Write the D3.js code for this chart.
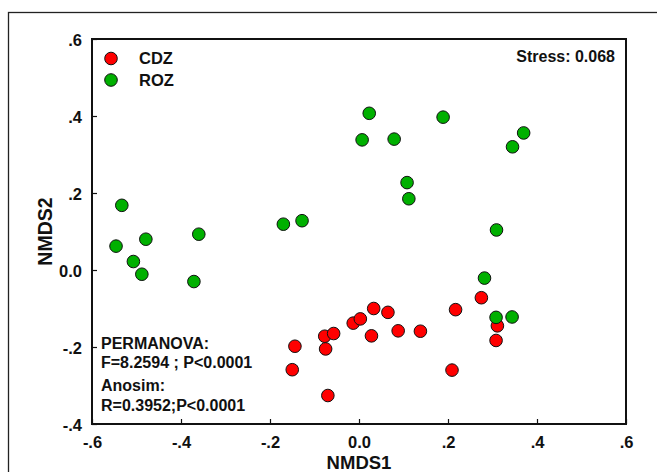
<!DOCTYPE html>
<html>
<head>
<meta charset="utf-8">
<script src="https://cdn.jsdelivr.net/npm/d3@7"></script>
<style>
  body { margin: 0; background: #fff; }
  text { font-family: "Liberation Sans", Arial, sans-serif; font-weight: bold; fill: #111; }
</style>
</head>
<body>
<div id="chart"></div>
<script>
(function(){
    // NMDS scores
    const groups = ["CDZ", "ROZ"];
    const cdzX = [-0.150, -0.144, -0.077, -0.057, -0.075, -0.070, -0.013, 0.003, 0.033, 0.028, 0.065, 0.088, 0.138, 0.217, 0.209, 0.275, 0.311, 0.308];
    const cdzY = [-0.259, -0.198, -0.172, -0.165, -0.205, -0.326, -0.138, -0.127, -0.100, -0.171, -0.110, -0.158, -0.159, -0.103, -0.260, -0.072, -0.145, -0.183];
    const rozX = [0.023, 0.007, 0.079, 0.189, 0.370, 0.345, 0.108, 0.112, 0.309, 0.282, 0.308, 0.344, -0.533, -0.546, -0.507, -0.479, -0.488, -0.360, -0.371, -0.170, -0.128];
    const rozY = [0.407, 0.338, 0.340, 0.397, 0.356, 0.320, 0.227, 0.185, 0.104, -0.021, -0.123, -0.122, 0.168, 0.062, 0.022, 0.080, -0.011, 0.093, -0.030, 0.119, 0.128];
    const xTicks = [-0.6, -0.4, -0.2, 0.0, 0.2, 0.4, 0.6];
    const yTicks = [-0.4, -0.2, 0.0, 0.2, 0.4, 0.6];
    const stats = ["PERMANOVA:", "F=8.2594 ; P<0.0001", "Anosim:", "R=0.3952;P<0.0001"];
    const stressLabel = "Stress: 0.068";

    const width = 657, height = 472;
    const margin = { left: 92, right: 31, top: 39, bottom: 48 };
    const colors = { CDZ: "#ff0000", ROZ: "#00b000" };

    const svg = d3.select("#chart").append("svg")
        .attr("width", width)
        .attr("height", height);

    // outer frame of the figure
    svg.append("rect")
        .attr("x", 8.5).attr("y", 12.5)
        .attr("width", width).attr("height", height)
        .attr("fill", "none").attr("stroke", "#222").attr("stroke-width", 1.3);

    const x = d3.scaleLinear().domain([-0.6, 0.6]).range([margin.left, width - margin.right]);
    const y = d3.scaleLinear().domain([-0.4, 0.6]).range([height - margin.bottom, margin.top]);

    const fmt = v => Math.abs(v) < 1e-9 ? "0.0" : d3.format(".1f")(v).replace("0.", ".").replace("−", "-");

    const xAxis = svg.append("g")
        .attr("transform", `translate(0,${y(-0.4)})`)
        .call(d3.axisBottom(x).tickValues(xTicks).tickFormat(fmt).tickSize(-5).tickPadding(12));
    const yAxis = svg.append("g")
        .attr("transform", `translate(${x(-0.6)},0)`)
        .call(d3.axisLeft(y).tickValues(yTicks).tickFormat(fmt).tickSize(-5).tickPadding(10));

    [xAxis, yAxis].forEach(g => {
        g.select(".domain").remove();
        g.selectAll(".tick line").attr("stroke", "#111").attr("stroke-width", 1.2);
        g.selectAll(".tick text")
            .attr("font-family", "Liberation Sans, Arial, sans-serif")
            .attr("font-weight", "bold")
            .attr("font-size", 16.5)
            .attr("fill", "#111");
    });
    yAxis.selectAll(".tick text").attr("dy", "0.38em");

    // plot frame
    svg.append("rect")
        .attr("x", x(-0.6)).attr("y", y(0.6))
        .attr("width", x(0.6) - x(-0.6)).attr("height", y(-0.4) - y(0.6))
        .attr("fill", "none").attr("stroke", "#111").attr("stroke-width", 2);

    // points
    const series = [
        { name: "CDZ", xs: cdzX, ys: cdzY },
        { name: "ROZ", xs: rozX, ys: rozY }
    ];
    series.forEach(s => {
        svg.append("g").selectAll("circle")
            .data(s.xs.map((v, i) => [v, s.ys[i]]))
            .enter().append("circle")
            .attr("cx", d => x(d[0]))
            .attr("cy", d => y(d[1]))
            .attr("r", 6.3)
            .attr("fill", colors[s.name])
            .attr("stroke", "#111")
            .attr("stroke-width", 1);
    });

    // legend
    const legend = svg.append("g");
    groups.forEach((g, i) => {
        legend.append("circle")
            .attr("cx", 111).attr("cy", 58.5 + i * 21.5)
            .attr("r", 6.3)
            .attr("fill", colors[g]).attr("stroke", "#111").attr("stroke-width", 1);
        legend.append("text")
            .attr("x", 139).attr("y", 64 + i * 21.5)
            .attr("font-size", 16.5)
            .text(g);
    });

    svg.append("text")
        .attr("x", 615).attr("y", 62)
        .attr("text-anchor", "end")
        .attr("font-size", 16)
        .text(stressLabel);

    // statistics block
    const statY = [349, 368, 391, 411];
    stats.forEach((t, i) => {
        svg.append("text")
            .attr("x", 101).attr("y", statY[i])
            .attr("font-size", 16)
            .text(t);
    });

    // axis titles
    svg.append("text")
        .attr("x", (x(-0.6) + x(0.6)) / 2).attr("y", 468.5)
        .attr("text-anchor", "middle")
        .attr("font-size", 18.5)
        .text("NMDS1");
    svg.append("text")
        .attr("transform", `translate(52,${(y(0.6) + y(-0.4)) / 2}) rotate(-90)`)
        .attr("text-anchor", "middle")
        .attr("font-size", 19.5)
        .text("NMDS2");
})();
</script>
</body>
</html>
